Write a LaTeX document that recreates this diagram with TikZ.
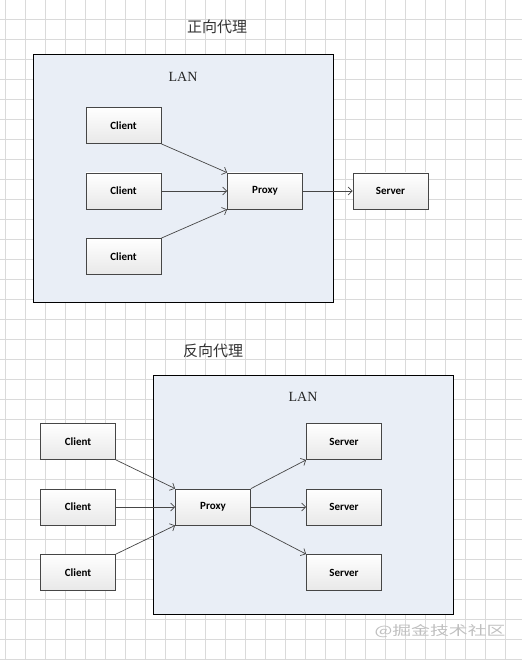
\documentclass[tikz,border=0pt]{standalone}
\usepackage{fontspec}
\setmainfont{Liberation Serif}
\setsansfont{Carlito}
\newfontfamily\cjk{Noto Sans CJK SC}
\usepackage{graphicx}
\usetikzlibrary{arrows.meta,positioning}
\definecolor{lanfill}{RGB}{233,238,246}
\definecolor{gridline}{RGB}{218,218,218}
\definecolor{boxline}{RGB}{70,70,70}

\begin{document}
\begin{tikzpicture}[x=1pt,y=-1pt,
    box/.style={draw=boxline,line width=0.8pt,top color=white,bottom color=black!9,
      minimum width=75pt,minimum height=36pt,inner sep=0pt,
      font=\sffamily\bfseries\fontsize{11}{13}\selectfont},
    lan/.style={draw=black,line width=1pt,fill=lanfill},
    link/.style={draw=boxline,line width=0.7pt,-{Straight Barb[length=4pt,width=8pt]}},
    title/.style={font=\cjk\fontsize{15}{18}\selectfont,text=black!80},
    lanlabel/.style={font=\fontsize{14}{16}\selectfont,text=black!85}]

    \useasboundingbox (0,0) rectangle (522,660);
    \fill[white] (0,0) rectangle (522,660);
    \foreach \gx in {5.7,25.7,...,521} \draw[gridline,line width=0.8pt] (\gx,0) -- (\gx,660);
    \foreach \gy in {19,39,...,659} \draw[gridline,line width=0.8pt] (0,\gy) -- (522,\gy);

    \node[title] (fwdtitle) at (217,27) {正向代理};
    \draw[lan] (33,55) rectangle (333,302);
    \node[lanlabel] (fwdlan) at (183,77) {LAN};

    \node[box] (fc1) at (123.5,125.5) {Client};
    \node[box] (fc2) at (123.5,191) {Client};
    \node[box] (fc3) at (123.5,256.5) {Client};
    \node[box] (fpx) at (265,191) {Proxy};
    \node[box] (fsv) at (390.5,191) {Server};

    \draw[link] (fc1.south east) -- (fpx.north west);
    \draw[link] (fc2) -- (fpx);
    \draw[link] (fc3.north east) -- (fpx.south west);
    \draw[link] (fpx) -- (fsv);

    \node[title] (revtitle) at (213,351) {反向代理};
    \draw[lan] (153,375) rectangle (453,614);
    \node[lanlabel] (revlan) at (303,397) {LAN};

    \node[box] (rc1) at (78,441.5) {Client};
    \node[box] (rc2) at (78,507) {Client};
    \node[box] (rc3) at (78,572.5) {Client};
    \node[box] (rpx) at (213,507) {Proxy};
    \node[box] (rs1) at (344,441.5) {Server};
    \node[box] (rs2) at (344,507) {Server};
    \node[box] (rs3) at (344,572.5) {Server};

    \draw[link] (rc1.south east) -- (rpx.north west);
    \draw[link] (rc2) -- (rpx);
    \draw[link] (rc3.north east) -- (rpx.south west);
    \draw[link] (rpx.north east) -- (rs1.south west);
    \draw[link] (rpx) -- (rs2);
    \draw[link] (rpx.south east) -- (rs3.north west);

    \node[text=black!25,font=\cjk\fontsize{13}{15}\selectfont] (mark) at (440,631) {\scalebox{1.45}[1]{@掘金技术社区}};
\end{tikzpicture}
\end{document}
